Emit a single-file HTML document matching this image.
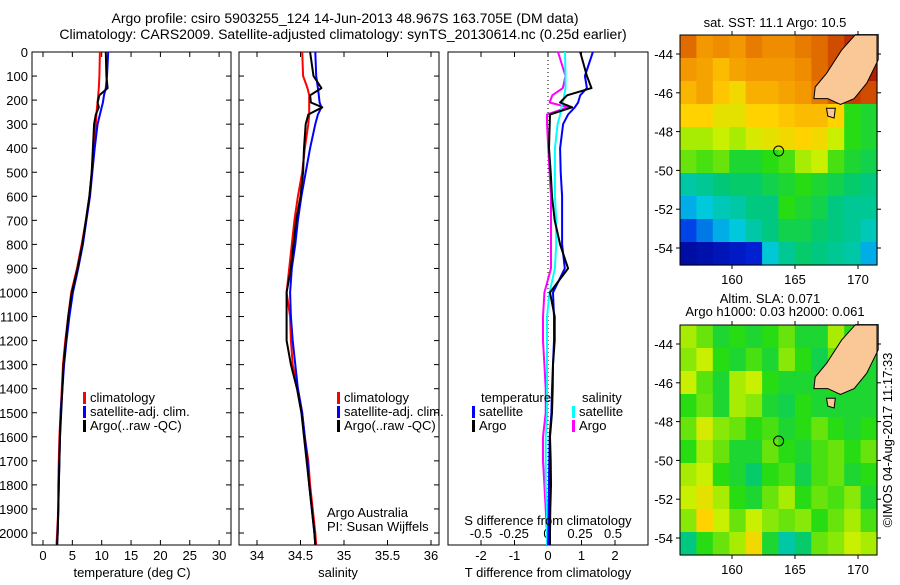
<!DOCTYPE html>
<html><head><meta charset="utf-8"><style>
body{margin:0;background:#fff;width:900px;height:580px;overflow:hidden}
svg{font-family:"Liberation Sans",sans-serif;font-size:13px}
</style></head><body>
<svg id="s" width="900" height="580" xmlns="http://www.w3.org/2000/svg">
<text x="345" y="23" text-anchor="middle" font-size="14">Argo profile: csiro 5903255_124 14-Jun-2013 48.967S 163.705E (DM data)</text>
<text x="343" y="39" text-anchor="middle" font-size="14">Climatology: CARS2009. Satellite-adjusted climatology: synTS_20130614.nc (0.25d earlier)</text>
</svg>
<script>
const depth=[0,100,150,180,210,230,260,300,400,500,600,700,800,900,1000,1100,1200,1300,1400,1500,1600,1700,1800,1900,2000,2050];
const tClim=[9.7,9.6,9.5,9.4,9.3,9.2,9.1,9.0,8.6,8.3,7.9,7.3,6.6,5.8,4.8,4.3,3.8,3.4,3.2,3.0,2.8,2.7,2.6,2.6,2.4,2.3];
const tSat=[11.1,10.9,10.7,10.4,10.2,10.0,9.7,9.3,8.8,8.4,8.0,7.4,6.8,6.0,5.1,4.5,4.0,3.6,3.3,3.0,2.9,2.8,2.7,2.6,2.5,2.4];
const tArgo=[10.7,10.8,11.0,9.6,9.3,9.5,9.0,8.7,8.5,8.3,7.9,7.3,6.7,5.9,4.9,4.3,3.9,3.5,3.3,3.1,2.9,2.8,2.7,2.6,2.5,2.4];
const sClim=[34.52,34.53,34.58,34.6,34.6,34.6,34.6,34.59,34.55,34.52,34.47,34.43,34.4,34.37,34.34,34.38,34.39,34.41,34.47,34.52,34.55,34.59,34.61,34.64,34.67,34.68];
const sSat=[34.67,34.68,34.7,34.71,34.72,34.74,34.7,34.67,34.61,34.56,34.51,34.47,34.44,34.4,34.38,34.39,34.41,34.44,34.47,34.52,34.55,34.58,34.6,34.63,34.66,34.67];
const sArgo=[34.61,34.65,34.74,34.61,34.62,34.75,34.59,34.56,34.54,34.53,34.5,34.45,34.42,34.39,34.34,34.34,34.34,34.39,34.46,34.51,34.54,34.57,34.6,34.63,34.66,34.67];
const dT_sat=[1.34,1.1,1.16,0.96,0.9,0.8,0.6,0.45,0.36,0.38,0.42,0.42,0.42,0.5,0.15,0.18,0.18,0.15,0.12,0.1,0.05,0.04,0.03,0.02,0.01,0.0];
const dT_argo=[0.96,1.16,1.3,0.57,0.36,0.72,0.06,0.05,0.03,0.08,0.12,0.2,0.36,0.6,0.06,0.2,0.2,0.15,0.14,0.12,0.06,0.08,0.09,0.07,0.06,0.06];
const dS_sat=[0.136,0.14,0.14,0.13,0.12,0.11,0.1,0.08,0.06,0.06,0.06,0.07,0.07,0.06,0.02,0.0,0.0,0.0,0.0,0.0,-0.01,-0.01,-0.01,0.0,0.0,0.0];
const dS_argo=[0.083,0.14,0.12,0.04,0.02,0.16,0.0,0.0,0.01,0.02,0.03,0.03,0.03,0.03,-0.02,-0.03,-0.03,-0.02,-0.01,-0.01,-0.03,-0.03,-0.02,-0.01,0.0,0.0];
const depthTicks=[0,100,200,300,400,500,600,700,800,900,1000,1100,1200,1300,1400,1500,1600,1700,1800,1900,2000];
const tTicks=[0,5,10,15,20,25,30];
const sTicks=[34,34.5,35,35.5,36];
const sTickLabels=["34","34.5","35","35.5","36"];
const dTTicks=[-2,-1,0,1,2];
const dSTicks=[-0.5,-0.25,0,0.25,0.5];
const dSTickLabels=["-0.5","-0.25","0","0.25","0.5"];
const lonTicks=[160,165,170];
const latTicks=[-44,-46,-48,-50,-52,-54];
const sstGrid=[
[0.86,0.8,0.82,0.8,0.84,0.82,0.82,0.84,0.86,0.9,0.94,0.96],
[0.8,0.78,0.74,0.78,0.8,0.8,0.8,0.82,0.86,0.9,0.94,0.96],
[0.75,0.78,0.72,0.68,0.76,0.76,0.78,0.8,0.84,0.88,0.92,0.9],
[0.7,0.7,0.66,0.66,0.7,0.7,0.72,0.74,0.74,0.7,0.52,0.5],
[0.6,0.6,0.62,0.6,0.64,0.66,0.68,0.7,0.68,0.62,0.52,0.5],
[0.56,0.54,0.56,0.5,0.5,0.52,0.54,0.6,0.62,0.54,0.5,0.48],
[0.4,0.42,0.45,0.46,0.46,0.48,0.5,0.52,0.5,0.48,0.46,0.44],
[0.3,0.34,0.38,0.4,0.44,0.44,0.52,0.5,0.48,0.44,0.42,0.42],
[0.18,0.24,0.3,0.34,0.4,0.44,0.48,0.48,0.46,0.44,0.42,0.38],
[0.05,0.06,0.08,0.1,0.12,0.35,0.42,0.46,0.44,0.42,0.4,0.3]];
const slaGrid=[
[0.6,0.56,0.5,0.52,0.5,0.52,0.56,0.5,0.5,0.6,0.52,0.5],
[0.58,0.62,0.52,0.5,0.54,0.5,0.58,0.52,0.48,0.56,0.5,0.5],
[0.62,0.55,0.5,0.6,0.62,0.52,0.5,0.5,0.5,0.52,0.5,0.5],
[0.52,0.56,0.5,0.6,0.58,0.5,0.48,0.52,0.5,0.5,0.5,0.5],
[0.56,0.64,0.58,0.56,0.52,0.54,0.5,0.52,0.56,0.52,0.5,0.52],
[0.52,0.6,0.56,0.5,0.5,0.56,0.52,0.5,0.54,0.56,0.52,0.56],
[0.6,0.62,0.52,0.5,0.46,0.52,0.54,0.48,0.54,0.56,0.5,0.52],
[0.62,0.66,0.6,0.52,0.5,0.56,0.6,0.52,0.56,0.54,0.58,0.5],
[0.58,0.7,0.62,0.56,0.62,0.58,0.56,0.58,0.52,0.56,0.6,0.54],
[0.44,0.52,0.56,0.6,0.68,0.5,0.4,0.46,0.56,0.58,0.62,0.6]];
const nzLon=[169.8,171.6,171.6,170.7,169.7,168.6,167.6,166.5,166.6,167.5,168.7];
const nzLat=[-43,-43,-44.3,-45.5,-46.3,-46.6,-46.3,-46.3,-45.7,-45,-43.8];
const stewLon=[167.5,168.2,168.1,167.6];
const stewLat=[-46.8,-46.8,-47.3,-47.2];
const argoLon=163.7, argoLat=-49.0;

const S=document.getElementById('s');const NS='http://www.w3.org/2000/svg';
function mk(t,a,p){const e=document.createElementNS(NS,t);for(const k in a)e.setAttribute(k,a[k]);(p||S).appendChild(e);return e;}
const Y0=52,YB=545;const yD=d=>Y0+d*0.2405;
function panel(x0,x1,name){const r=mk('rect',{x:x0,y:Y0,width:x1-x0,height:YB-Y0,fill:'none',stroke:'#000','stroke-width':1});
}
function line(xs,f,col,name,w){let d='';for(let i=0;i<depth.length;i++){d+=(i?'L':'M')+f(xs[i]).toFixed(1)+' '+yD(depth[i]).toFixed(1);}
const p=mk('path',{d:d,fill:'none',stroke:col,'stroke-width':w||2,'stroke-linejoin':'round'});}
function txt(x,y,s,name,anchor,extra){const t=mk('text',Object.assign({x:x,y:y,'text-anchor':anchor||'start'},extra||{}));t.textContent=s;return t;}
function xticks(x0,x1,ticks,f,labels,ly,name){ticks.forEach((v,i)=>{const x=f(v);mk('line',{x1:x,x2:x,y1:Y0,y2:Y0+5,stroke:'#000'});mk('line',{x1:x,x2:x,y1:YB,y2:YB-5,stroke:'#000'});
if(labels)txt(x,ly,labels[i],name+'-tick-label','middle');});}
function yticks(x0,x1){depthTicks.forEach(d=>{const y=yD(d);mk('line',{x1:x0,x2:x0+5,y1:y,y2:y,stroke:'#000'});mk('line',{x1:x1,x2:x1-5,y1:y,y2:y,stroke:'#000'});});}
const fT=v=>43+v*5.87;panel(32,231,'temperature-panel');yticks(32,231);
depthTicks.forEach(d=>txt(28,yD(d)+5,String(d),'depth-tick-label','end'));
xticks(32,231,tTicks,fT,tTicks.map(String),560,'temperature');
txt(132,577,'temperature (deg C)','temperature-axis-title','middle');
line(tClim,fT,'#f00','temperature-climatology-line');line(tSat,fT,'#00f','temperature-satellite-line');line(tArgo,fT,'#000','temperature-argo-line');
const fS=v=>257+(v-34)*87;panel(239,439,'salinity-panel');yticks(239,439);
xticks(239,439,sTicks,fS,sTickLabels,560,'salinity');
txt(338,577,'salinity','salinity-axis-title','middle');
line(sClim,fS,'#f00','salinity-climatology-line');line(sSat,fS,'#00f','salinity-satellite-line');line(sArgo,fS,'#000','salinity-argo-line');
function legend(x,y,items,name){items.forEach((it,i)=>{mk('rect',{x:x,y:y+i*14-10,width:3,height:12,fill:it[1]});txt(x+7,y+i*14,it[0],name+'-entry');});}
legend(83,402,[['climatology','#f00'],['satellite-adj. clim.','#00f'],['Argo(..raw -QC)','#000']],'temperature-legend');
legend(337,402,[['climatology','#f00'],['satellite-adj. clim.','#00f'],['Argo(..raw -QC)','#000']],'salinity-legend');
txt(327,517,'Argo Australia','credit-line-1');txt(327,531,'PI: Susan Wijffels','credit-line-2');
const fdT=v=>548+v*33.5, fdS=v=>547+v*132;panel(448,648,'difference-panel');
xticks(448,648,dTTicks,fdT,dTTicks.map(String),560,'t-difference');
dSTicks.forEach((v,i)=>txt(fdS(v),538,dSTickLabels[i],'s-difference-tick-label','middle'));
mk('line',{x1:548,x2:548,y1:Y0,y2:YB,stroke:'#000','stroke-dasharray':'1,3'});
line(dS_argo,fdS,'#f0f','s-diff-argo-line');line(dS_sat,fdS,'#0ff','s-diff-satellite-line');
line(dT_sat,fdT,'#00f','t-diff-satellite-line');line(dT_argo,fdT,'#000','t-diff-argo-line');
txt(548,525,'S difference from climatology','s-difference-axis-title','middle');
txt(548,577,'T difference from climatology','t-difference-axis-title','middle');
txt(481,402,'temperature','diff-legend-temperature-header');txt(582,402,'salinity','diff-legend-salinity-header');
legend(472,416,[['satellite','#00f'],['Argo','#000']],'diff-legend-t');
legend(572,416,[['satellite','#0ff'],['Argo','#f0f']],'diff-legend-s');
function jet(v){const c=[[0,[0,0,130]],[0.15,[0,40,230]],[0.33,[0,200,230]],[0.45,[0,200,120]],[0.52,[40,220,20]],[0.62,[200,240,0]],[0.7,[255,210,0]],[0.82,[240,140,0]],[0.92,[200,60,0]],[1,[150,0,0]]];
for(let i=1;i<c.length;i++)if(v<=c[i][0]){const t=(v-c[i-1][0])/(c[i][0]-c[i-1][0]);const a=c[i-1][1],b=c[i][1];return 'rgb('+a.map((q,j)=>Math.round(q+(b[j]-q)*t)).join(',')+')';}return 'rgb(150,0,0)';}
function map(x0,x1,y0,y1,latY44,latY54,grid,name,titles){const fx=l=>732+(l-160)*12.6;const fy=l=>latY44+(-44-l)*(latY54-latY44)/10;
const g=mk('g',{});
const nr=grid.length,nc=grid[0].length,cw=(x1-x0)/nc,ch=(y1-y0)/nr;
grid.forEach((row,r)=>row.forEach((v,c)=>{const e=mk('rect',{x:(x0+c*cw).toFixed(1),y:(y0+r*ch).toFixed(1),width:cw+0.6,height:ch+0.6,fill:jet(v)},g);}));
const poly=(lo,la,n)=>{const p=mk('polygon',{points:lo.map((l,i)=>fx(l).toFixed(1)+','+fy(la[i]).toFixed(1)).join(' '),fill:'#f9c896',stroke:'#000','stroke-width':1},g);};
poly(nzLon,nzLat,'new-zealand-land');poly(stewLon,stewLat,'stewart-island');
const c=mk('circle',{cx:fx(argoLon),cy:fy(argoLat),r:5,fill:'none',stroke:'#000'});
mk('rect',{x:x0,y:y0,width:x1-x0,height:y1-y0,fill:'none',stroke:'#000'});
lonTicks.forEach(l=>{const x=fx(l);mk('line',{x1:x,x2:x,y1:y0,y2:y0-4,stroke:'#000'});mk('line',{x1:x,x2:x,y1:y1,y2:y1+4,stroke:'#000'});txt(x,y1+19,String(l),'longitude-tick-label','middle');});
latTicks.forEach(l=>{const y=fy(l);mk('line',{x1:x0,x2:x0-4,y1:y,y2:y,stroke:'#000'});mk('line',{x1:x1,x2:x1+4,y1:y,y2:y,stroke:'#000'});txt(673,y+5,String(l),'latitude-tick-label','end');});
titles.forEach((t,i)=>txt(t[1],t[2],t[0],name+'-title','middle'));}
map(680,877,35,265,54,248,sstGrid,'sst-map',[['sat. SST: 11.1 Argo: 10.5',775,27]]);
map(680,877,325,555,344,538,slaGrid,'sla-map',[['Altim. SLA: 0.071',770,303],['Argo h1000: 0.03 h2000: 0.061',775,316]]);
txt(892,440,'©IMOS 04-Aug-2017 11:17:33','imos-timestamp','middle',{transform:'rotate(-90 892 440)'});
</script>
</body></html>
